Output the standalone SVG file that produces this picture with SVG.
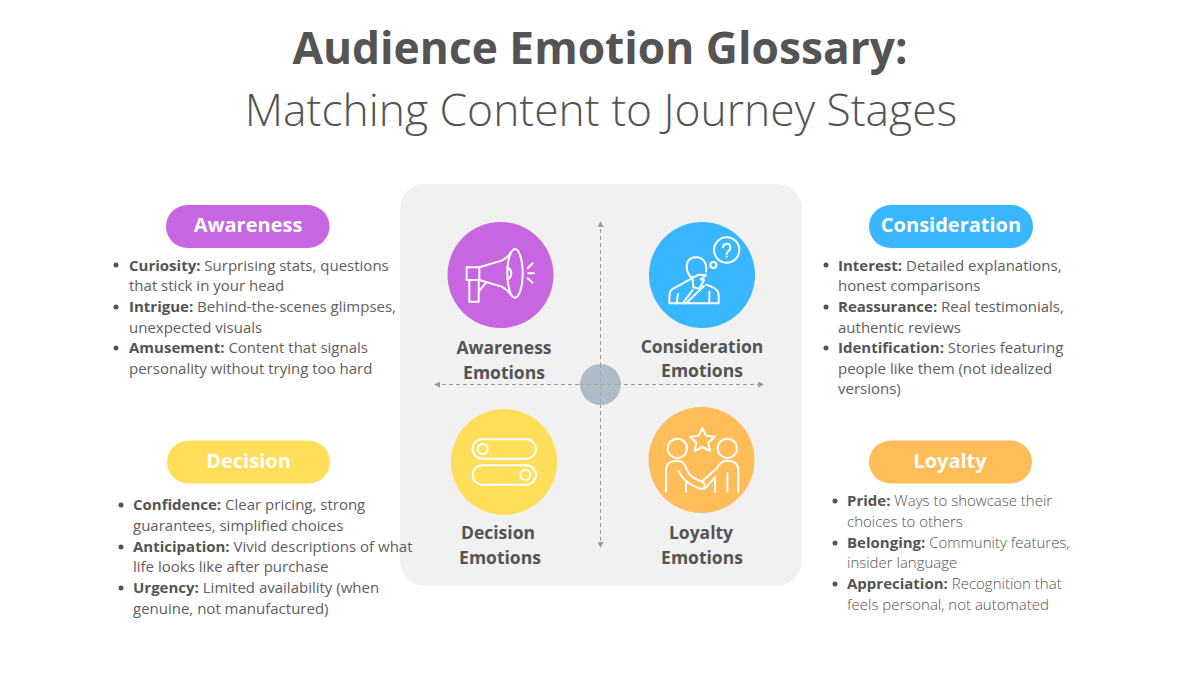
<svg xmlns="http://www.w3.org/2000/svg" width="1200" height="675" viewBox="0 0 1200 675">
<style>
text{font-family:"Open Sans","Noto Sans","Liberation Sans",sans-serif;fill:#5e5e5e}
.t1{font-size:44.300px;font-weight:700;text-anchor:middle;fill:#545454}
.t2{font-size:44.400px;font-weight:300;text-anchor:middle;fill:#545454}
.pill{font-size:20px;font-weight:700;fill:#fff;text-anchor:middle}
.cap{font-size:17.500px;font-weight:700;text-anchor:middle;fill:#545454}
.b{font-size:15px}
.b tspan{font-weight:700;fill:#545454}
.l{font-weight:300;fill:#545454}
.ic{fill:none;stroke:#fff;stroke-width:6;stroke-linecap:round;stroke-linejoin:round}
.ax{stroke:#9a9a9a;stroke-width:1;stroke-dasharray:4 3;fill:none}
.dot{fill:#545454}
</style>
<defs>
<marker id="ah" viewBox="0 0 6 6" refX="5" refY="3" markerWidth="6" markerHeight="6" orient="auto-start-reverse"><path d="M0 0L6 3L0 6z" fill="#9a9a9a"/></marker>
</defs>
<rect width="1200" height="675" fill="#fff"/>
<g id="title">
<text class="t1" x="600" y="64">Audience Emotion Glossary:</text>
<text class="t2" x="601" y="126">Matching Content to Journey Stages</text>
</g>
<rect id="panel" x="400" y="184" width="401.500" height="401.500" rx="24" fill="#f1f1f1"/>
<g id="connectors">
<path class="ax" d="M600.500 222V547" marker-start="url(#ah)" marker-end="url(#ah)"/>
<path class="ax" d="M435 384.500H763" marker-start="url(#ah)" marker-end="url(#ah)"/>
</g>
<circle id="hub" cx="600.500" cy="384.500" r="20.500" fill="#aebcc8"/>
<path d="M600.500 364V405M580 384.500H621" class="ax" stroke-opacity=".6"/>
<g id="node-awareness">
<circle cx="500.500" cy="275" r="53" fill="#c866e2"/>
<g class="ic" transform="translate(460 240) scale(.3333)">
<ellipse cx="165" cy="100" rx="23" ry="73"/>
<path d="M20 82H58V120H20Z"/>
<path d="M58 82L125 62Q142 55 153 36M58 120L125 140Q142 148 153 165"/>
<path d="M28 120V185H56V120M56 155L78 128"/>
<path d="M142 83C158 88 158 112 142 118"/>
<path d="M203 85L218 70M205 100H222M203 115L218 128"/>
</g>
<text class="cap" x="504" y="354">Awareness</text>
<text class="cap" x="504" y="379">Emotions</text>
</g>
<g id="node-consideration">
<circle cx="702" cy="275" r="53" fill="#38b6ff"/>
<g class="ic" transform="translate(660 230) scale(.3333)">
<circle cx="200" cy="60" r="38"/>
<circle cx="160" cy="105" r="9"/>
<path d="M189 52C191 38 211 38 211 53C211 63 200 63 200 73M200 80V81"/>
<path d="M95 145C72 120 75 82 108 82C130 82 142 100 138 125"/>
<path d="M97 140L100 172L118 176L132 150L122 148L138 136L116 134L95 145"/>
<path d="M90 148L36 178C30 182 28 188 28 220H176V195C176 178 160 172 138 164"/>
<path d="M50 220L54 192M68 220L98 180M78 220L132 168M148 220V185"/>
</g>
<text class="cap" x="702" y="353">Consideration</text>
<text class="cap" x="702" y="377">Emotions</text>
</g>
<g id="node-decision">
<circle cx="504" cy="462" r="53" fill="#ffde59"/>
<g class="ic" transform="translate(400 380) scale(.3333)">
<rect x="218" y="178" width="190" height="58" rx="29"/>
<circle cx="248" cy="207" r="15"/>
<rect x="218" y="256" width="190" height="58" rx="29"/>
<circle cx="376" cy="285" r="15"/>
</g>
<text class="cap" x="498" y="539">Decision</text>
<text class="cap" x="500" y="564">Emotions</text>
</g>
<g id="node-loyalty">
<circle cx="701.500" cy="460" r="53" fill="#ffbd59"/>
<g class="ic" transform="translate(655 420) scale(.3333)">
<circle cx="67" cy="85" r="29"/>
<circle cx="217" cy="85" r="29"/>
<path d="M142 24L153 47L179 50L160 68L165 93L142 81L119 93L124 68L105 50L131 47Z"/>
<path d="M33 215V150C33 130 50 122 68 122C85 122 90 135 96 150C100 165 112 172 140 185C155 192 150 212 132 205C110 196 85 185 70 152"/>
<path d="M250 215V150C250 130 235 122 217 122C200 122 192 132 185 145L140 185M150 205L180 172M93 190V215M180 172V215M217 160V215"/>
</g>
<text class="cap" x="701" y="539">Loyalty</text>
<text class="cap" x="702" y="564">Emotions</text>
</g>
<g id="label-awareness">
<rect x="166" y="205" width="163.500" height="43" rx="21.500" fill="#c866e2"/>
<text class="pill" x="248" y="232">Awareness</text>
<circle class="dot" cx="116" cy="265" r="2.500"/><circle class="dot" cx="116" cy="307" r="2.500"/><circle class="dot" cx="116" cy="348" r="2.500"/>
<text class="b" x="129" y="271"><tspan>Curiosity:</tspan> Surprising stats, questions</text>
<text class="b" x="129" y="291">that stick in your head</text>
<text class="b" x="129" y="312"><tspan>Intrigue:</tspan> Behind-the-scenes glimpses,</text>
<text class="b" x="129" y="333">unexpected visuals</text>
<text class="b" x="129" y="353"><tspan>Amusement:</tspan> Content that signals</text>
<text class="b" x="129" y="374">personality without trying too hard</text>
</g>
<g id="label-consideration">
<rect x="869" y="205" width="164" height="43" rx="21.500" fill="#38b6ff"/>
<text class="pill" x="951" y="232">Consideration</text>
<circle class="dot" cx="826" cy="265" r="2.500"/><circle class="dot" cx="826" cy="307" r="2.500"/><circle class="dot" cx="826" cy="348" r="2.500"/>
<text class="b" x="838" y="271"><tspan>Interest:</tspan> Detailed explanations,</text>
<text class="b" x="838" y="291">honest comparisons</text>
<text class="b" x="838" y="312"><tspan>Reassurance:</tspan> Real testimonials,</text>
<text class="b" x="838" y="333">authentic reviews</text>
<text class="b" x="838" y="353"><tspan>Identification:</tspan> Stories featuring</text>
<text class="b" x="838" y="374">people like them (not idealized</text>
<text class="b" x="838" y="394">versions)</text>
</g>
<g id="label-decision">
<rect x="167" y="440.500" width="163" height="43" rx="21.500" fill="#ffde59"/>
<text class="pill" x="248.500" y="468">Decision</text>
<circle class="dot" cx="121" cy="505" r="2.500"/><circle class="dot" cx="121" cy="547" r="2.500"/><circle class="dot" cx="121" cy="588" r="2.500"/>
<text class="b" x="133" y="510"><tspan>Confidence:</tspan> Clear pricing, strong</text>
<text class="b" x="133" y="531">guarantees, simplified choices</text>
<text class="b" x="133" y="552"><tspan>Anticipation:</tspan> Vivid descriptions of what</text>
<text class="b" x="133" y="572">life looks like after purchase</text>
<text class="b" x="133" y="593"><tspan>Urgency:</tspan> Limited availability (when</text>
<text class="b" x="133" y="614">genuine, not manufactured)</text>
</g>
<g id="label-loyalty">
<rect x="869" y="440.500" width="163" height="43" rx="21.500" fill="#ffbd59"/>
<text class="pill" x="950" y="468">Loyalty</text>
<circle class="dot" cx="835" cy="501" r="2.500"/><circle class="dot" cx="835" cy="543" r="2.500"/><circle class="dot" cx="835" cy="584" r="2.500"/>
<text class="b l" x="847" y="506"><tspan>Pride:</tspan> Ways to showcase their</text>
<text class="b l" x="847" y="527">choices to others</text>
<text class="b l" x="847" y="548"><tspan>Belonging:</tspan> Community features,</text>
<text class="b l" x="847" y="568">insider language</text>
<text class="b l" x="847" y="589"><tspan>Appreciation:</tspan> Recognition that</text>
<text class="b l" x="847" y="610">feels personal, not automated</text>
</g>
</svg>
